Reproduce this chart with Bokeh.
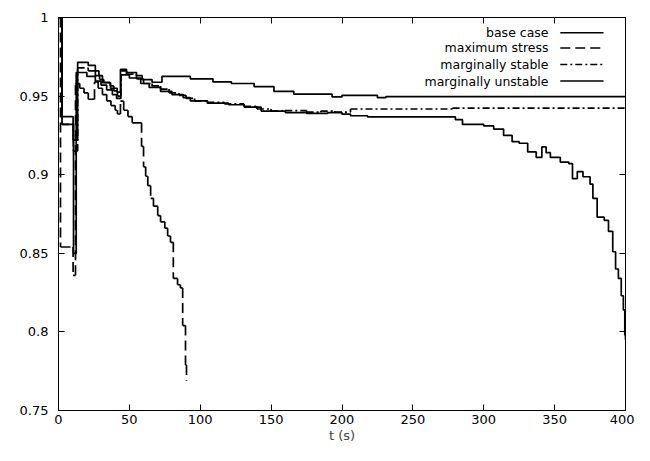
from bokeh.plotting import figure
from bokeh.models import LinearAxis, FixedTicker, CustomJSTickFormatter, Range1d, Label
from bokeh.embed import file_html
from bokeh.resources import INLINE

# ---------------- data ----------------
t_base = [0, 2.5, 10.3, 13.5, 21, 26, 28.5, 31, 36.7, 41.4, 43.7, 48, 55, 59, 66, 73,
          93, 109, 122, 138, 152, 166, 193, 200, 225, 231, 400]
v_base = [1.0, 0.937, 0.922, 0.9715, 0.9695, 0.966, 0.963, 0.9585, 0.955, 0.9525, 0.967,
          0.965, 0.963, 0.9605, 0.9588, 0.9626, 0.961, 0.959, 0.958, 0.956, 0.953, 0.9512,
          0.9495, 0.9505, 0.949, 0.9497, 0.9497]

t_max = [0, 1.4, 10.3, 12, 15, 18, 21, 25.4, 28, 31, 34, 37, 40, 41.6, 43.7, 46, 49, 52,
         58.6, 60, 61.5, 63, 65, 67, 70, 72, 75, 77, 79, 81, 84, 86, 87.6, 89.6, 90.3]
v_max = [1.0, 0.854, 0.836, 0.958, 0.955, 0.952, 0.948, 0.959, 0.955, 0.951, 0.947, 0.944,
         0.941, 0.9386, 0.9468, 0.941, 0.937, 0.933, 0.918, 0.905, 0.899, 0.893, 0.885,
         0.880, 0.874, 0.870, 0.866, 0.861, 0.857, 0.834, 0.830, 0.828, 0.804, 0.779, 0.769]

t_mstab = [0, 2.5, 10.5, 13.5, 21, 26, 29, 32, 36.5, 39, 41.6, 44, 48, 55, 60, 66, 72, 78,
           85, 90, 96, 105, 117, 131, 140, 150, 160, 175, 185, 195, 206, 278, 400]
v_mstab = [1.0, 0.932, 0.915, 0.968, 0.966, 0.963, 0.9605, 0.9587, 0.9565, 0.9533, 0.950,
           0.966, 0.964, 0.961, 0.958, 0.9565, 0.9545, 0.952, 0.9505, 0.9485, 0.947, 0.946,
           0.945, 0.9435, 0.9418, 0.9405, 0.9408, 0.9398, 0.9405, 0.9398, 0.9418, 0.9424,
           0.9424]

t_munst = [0, 2.5, 10.6, 12.5, 20, 26, 30, 34, 38, 41, 44, 50, 58, 64, 72, 80, 88, 93, 105,
           120, 131, 143, 160, 175, 190, 200, 206, 218, 280, 285, 300, 307, 314, 320, 325,
           331, 337, 341, 344, 347, 354, 360, 362.6, 366, 370, 375, 377, 380, 385, 388, 391,
           393, 395, 397, 398.5, 399.5, 400]
v_munst = [1.0, 0.932, 0.85, 0.965, 0.9625, 0.9595, 0.957, 0.954, 0.951, 0.9485, 0.9635,
           0.9615, 0.958, 0.9555, 0.953, 0.951, 0.949, 0.947, 0.9455, 0.9445, 0.943, 0.9405,
           0.9395, 0.939, 0.9395, 0.9385, 0.9375, 0.9368, 0.935, 0.932, 0.931, 0.929, 0.925,
           0.921, 0.920, 0.9145, 0.911, 0.9177, 0.914, 0.911, 0.908, 0.907, 0.8975, 0.902,
           0.8987, 0.894, 0.885, 0.873, 0.871, 0.864, 0.851, 0.840, 0.834, 0.823, 0.814,
           0.798, 0.795]

x_ticks = [0, 50, 100, 150, 200, 250, 300, 350, 400]
y_ticks = [0.75, 0.8, 0.85, 0.9, 0.95, 1.0]
series_names = ["base case", "maximum stress", "marginally stable", "marginally unstable"]
x_label = "t (s)"

# ---------------- styling / layout ----------------
FONT = "DejaVu Sans"
dashes = ["solid", "10 5", "7 3 2 3", "solid"]
LW = 1.7
# legend layout (in the units of the fixed ranges)
leg_text_x = 345.7
leg_line_x0, leg_line_x1 = 354, 384.5
leg_rows = [0.9903, 0.9806, 0.9701, 0.9596]

p = figure(width=634, height=445, output_backend="svg", toolbar_location=None,
           x_range=Range1d(0, 400), y_range=Range1d(0.75, 1.0),
           min_border_left=58, min_border_right=9, min_border_top=17, min_border_bottom=32)
p.grid.visible = False
p.outline_line_color = "black"
p.outline_line_width = 1
p.background_fill_color = "white"
p.border_fill_color = "white"


def style_axis(ax, font_size="13px"):
    ax.major_tick_in = 6
    ax.major_tick_out = 0
    ax.minor_tick_in = 0
    ax.minor_tick_out = 0
    ax.axis_line_color = "black"
    ax.major_tick_line_color = "black"
    ax.major_label_text_font = FONT
    ax.major_label_text_font_size = font_size
    ax.major_label_text_color = "black"


xa = p.xaxis[0]
xa.ticker = FixedTicker(ticks=x_ticks)
style_axis(xa)
xa.major_label_standoff = 4
xa.axis_label = x_label
xa.axis_label_text_font = FONT
xa.axis_label_text_font_size = "13px"
xa.axis_label_text_font_style = "normal"
xa.axis_label_standoff = 1

ya = p.yaxis[0]
ya.ticker = FixedTicker(ticks=y_ticks)
ya.formatter = CustomJSTickFormatter(code="return (Math.round(tick*100)/100).toString();")
style_axis(ya)
ya.major_label_standoff = 10

empty = CustomJSTickFormatter(code="return '';")
top = LinearAxis(ticker=FixedTicker(ticks=x_ticks), formatter=empty)
style_axis(top, "1px")
top.major_label_standoff = 0
p.add_layout(top, "above")
right = LinearAxis(ticker=FixedTicker(ticks=y_ticks), formatter=empty)
style_axis(right, "1px")
right.major_label_standoff = 0
p.add_layout(right, "right")


def step_segments(tt, vv):
    """Split a step-after series into its horizontal and vertical pieces
    (gnuplot draws each piece separately, so the dash pattern restarts)."""
    x0, y0, x1, y1 = [], [], [], []
    for i in range(len(tt) - 1):
        x0.append(tt[i]); y0.append(vv[i]); x1.append(tt[i + 1]); y1.append(vv[i])
        x0.append(tt[i + 1]); y0.append(vv[i]); x1.append(tt[i + 1]); y1.append(vv[i + 1])
    return x0, y0, x1, y1


data = [(t_base, v_base), (t_max, v_max), (t_mstab, v_mstab), (t_munst, v_munst)]
for (tt, vv), dash in zip(data, dashes):
    if dash == "solid":
        p.step(x=tt, y=vv, mode="after", line_color="black", line_width=LW)
    else:
        x0, y0, x1, y1 = step_segments(tt, vv)
        p.segment(x0=x0, y0=y0, x1=x1, y1=y1, line_color="black", line_width=LW,
                  line_dash=dash)

# legend (gnuplot style: label right-aligned, sample on the right)
for name, dash, yy in zip(series_names, dashes, leg_rows):
    p.add_layout(Label(x=leg_text_x, y=yy, text=name, text_align="right",
                       text_baseline="middle", text_font=FONT, text_font_size="12.5px",
                       text_color="black"))
    p.line(x=[leg_line_x0, leg_line_x1], y=[yy, yy], line_color="black",
           line_width=LW, line_dash=dash)

open("out.html", "w").write(file_html(p, INLINE))
